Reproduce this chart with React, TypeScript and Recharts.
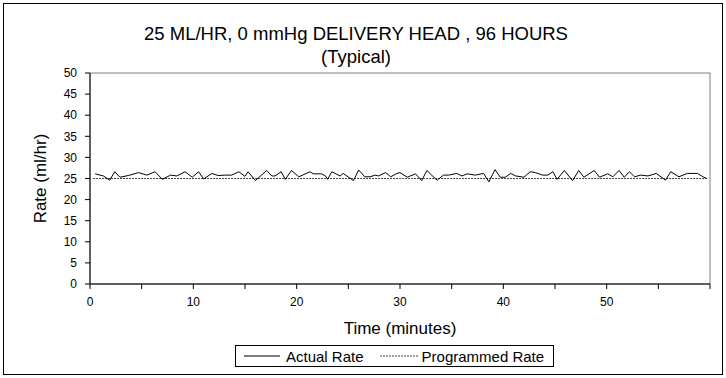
import React from 'react';
import { LineChart, Line, XAxis, YAxis, ReferenceArea } from 'recharts';

const times = [
  0.5, 1.3, 1.9, 2.4, 2.9, 3.7, 4.7, 5.5, 6.3, 7.0, 7.8, 8.4, 9.2, 9.9, 10.5, 11.0, 11.8, 12.4, 13.1, 13.7,
  14.4, 15.0, 15.3, 16.0, 17.1, 17.6, 17.9, 18.5, 18.9, 19.5, 20.2, 21.3, 21.6, 22.4, 22.8, 23.0, 23.4, 24.2,
  24.5, 25.5, 26.0, 26.6, 27.1, 27.6, 27.9, 28.6, 29.1, 29.7, 30.0, 30.7, 31.5, 32.1, 32.6, 33.4, 33.6, 34.2,
  34.7, 35.5, 36.0, 36.5, 37.3, 38.1, 38.6, 39.2, 39.7, 40.2, 40.7, 41.2, 42.0, 42.6, 43.1, 43.8, 44.3, 44.8,
  45.2, 45.9, 46.7, 47.3, 47.8, 48.8, 49.3, 50.1, 50.6, 51.2, 51.7, 52.2, 52.7, 53.3, 54.0, 54.8, 55.7, 56.2,
  57.0, 57.8, 58.8, 59.4, 59.7,
];

const actualRate = [
  26.1, 25.6, 24.6, 26.6, 25.3, 25.7, 26.4, 25.8, 26.6, 24.8, 25.8, 25.6, 26.6, 25.3, 26.6, 24.9, 26.2, 25.7, 25.8, 25.8,
  26.6, 25.5, 26.6, 24.5, 26.9, 25.6, 25.6, 26.6, 24.8, 26.9, 25.4, 26.6, 26.1, 26.1, 25.6, 24.8, 26.6, 25.6,
  26.2, 24.5, 27.0, 25.4, 25.4, 25.8, 25.6, 26.4, 25.4, 26.2, 26.4, 25.3, 26.1, 24.5, 26.9, 25.0, 24.6, 25.8,
  25.8, 26.2, 25.6, 26.1, 25.8, 26.2, 24.2, 27.1, 25.3, 25.3, 26.2, 25.6, 25.3, 26.6, 26.4, 25.8, 25.8, 26.6,
  24.8, 26.9, 24.5, 26.9, 25.3, 26.9, 25.3, 26.1, 25.4, 26.9, 25.3, 26.6, 25.4, 25.8, 25.6, 26.2, 24.6, 26.6,
  25.4, 26.2, 26.2, 25.3, 25.0,
];

const programmedTimes = [0.3, 59.7];
const programmedRate = [25, 25];

const xTicks = [0, 5, 10, 15, 20, 25, 30, 35, 40, 45, 50, 55, 60];
const yTicks = [0, 5, 10, 15, 20, 25, 30, 35, 40, 45, 50];

const titleLine1 = '25 ML/HR, 0 mmHg DELIVERY HEAD , 96 HOURS';
const titleLine2 = '(Typical)';
const xTitle = 'Time (minutes)';
const yTitle = 'Rate (ml/hr)';
const seriesNames = ['Actual Rate', 'Programmed Rate'];

const actualData = times.map((t, i) => ({ t, v: actualRate[i] }));
const programmedData = programmedTimes.map((t, i) => ({ t, v: programmedRate[i] }));

const FONT = '"Liberation Sans", Arial, sans-serif';

export default function App() {
  return (
    <div style={{ position: 'absolute', left: 0, top: 0, width: 726, height: 378, background: '#fff', fontFamily: FONT }}>
      <div style={{ position: 'absolute', left: 3, top: 3, width: 718, height: 370, border: '1px solid #000' }} />
      <div style={{ position: 'absolute', left: 0, width: 712, top: 23, textAlign: 'center', fontSize: 18.5, lineHeight: '22px', color: '#000' }}>
        {titleLine1}
      </div>
      <div style={{ position: 'absolute', left: 0, width: 712, top: 46, textAlign: 'center', fontSize: 18.5, lineHeight: '22px', color: '#000' }}>
        {titleLine2}
      </div>
      <div style={{ position: 'absolute', left: 0, top: 0 }}>
        <LineChart width={726} height={378} margin={{ top: 73, right: 16, left: 0, bottom: 64 }}>
          <ReferenceArea x1={0} x2={60} y1={0} y2={50} fill="none" stroke="#808080" strokeWidth={1} ifOverflow="visible" />
          <XAxis
            dataKey="t"
            type="number"
            domain={[0, 60]}
            ticks={xTicks}
            interval={0}
            allowDuplicatedCategory={false}
            tickFormatter={(v: number) => (v % 10 === 0 && v < 60 ? String(v) : '')}
            tick={{ fill: '#000', fontSize: 12, fontFamily: FONT }}
            tickSize={5}
            tickMargin={8}
            axisLine={{ stroke: '#000' }}
            tickLine={{ stroke: '#000' }}
            height={30}
            label={{ value: xTitle, position: 'insideBottom', offset: -20, fill: '#000', fontSize: 17, fontFamily: FONT }}
          />
          <YAxis
            type="number"
            domain={[0, 50]}
            ticks={yTicks}
            interval={0}
            tick={{ fill: '#000', fontSize: 12, fontFamily: FONT }}
            tickSize={5}
            tickMargin={8}
            axisLine={{ stroke: '#000' }}
            tickLine={{ stroke: '#000' }}
            width={90}
            label={{ value: yTitle, angle: -90, position: 'insideLeft', offset: 40, fill: '#000', fontSize: 17, fontFamily: FONT, style: { textAnchor: 'middle' } }}
          />
          <Line
            data={programmedData}
            dataKey="v"
            name={seriesNames[1]}
            type="linear"
            stroke="#444"
            strokeWidth={1}
            strokeDasharray="2 1"
            dot={false}
            isAnimationActive={false}
          />
          <Line
            data={actualData}
            dataKey="v"
            name={seriesNames[0]}
            type="linear"
            stroke="#000"
            strokeWidth={1}
            dot={false}
            isAnimationActive={false}
          />
        </LineChart>
      </div>
      <div style={{ position: 'absolute', left: 235, top: 345, width: 319, height: 22, border: '1px solid #000', boxSizing: 'border-box', display: 'flex', alignItems: 'center', fontSize: 15, color: '#000' }}>
        <svg width={44} height={10} style={{ marginLeft: 6 }}>
          <line x1={2} y1={5} x2={38} y2={5} stroke="#000" strokeWidth={1} />
        </svg>
        <span style={{ marginLeft: 0 }}>{seriesNames[0]}</span>
        <svg width={44} height={10} style={{ marginLeft: 14 }}>
          <line x1={2} y1={5} x2={40} y2={5} stroke="#444" strokeWidth={1} strokeDasharray="2 1" />
        </svg>
        <span>{seriesNames[1]}</span>
      </div>
    </div>
  );
}
